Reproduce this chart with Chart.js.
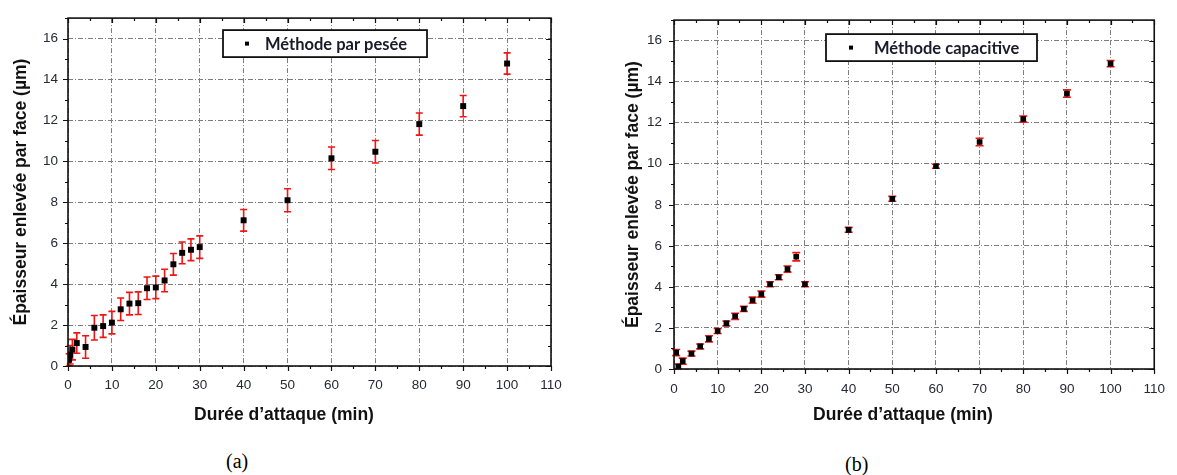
<!DOCTYPE html>
<html>
<head>
<meta charset="utf-8">
<script src="https://cdn.jsdelivr.net/npm/chart.js@4.4.0/dist/chart.umd.min.js"></script>
<style>
    body { margin: 0; background: #fff; width: 1177px; height: 475px; overflow: hidden; position: relative; }
    canvas { position: absolute; top: 0; }
    #chart-a { left: 0; }
    #chart-b { left: 590px; }
    .caption { position: absolute; font-family: 'Liberation Serif', 'Times New Roman', serif; font-size: 20px; color: #000; }
</style>
</head>
<body>
<canvas id="chart-a" width="580" height="432"></canvas>
<canvas id="chart-b" width="587" height="432"></canvas>
<div class="caption" style="left:226px; top:450px;">(a)</div>
<div class="caption" style="left:845px; top:453px;">(b)</div>

<script>
// (a) méthode par pesée
const timeA = [0.25, 0.5, 1, 2, 4, 6, 8, 10, 12, 14, 16, 18, 20, 22, 24, 26, 28, 30, 40, 50, 60, 70, 80, 90, 100];
const thickA = [0.3, 0.55, 0.8, 1.12, 0.93, 1.87, 1.95, 2.12, 2.77, 3.05, 3.07, 3.8, 3.84, 4.18, 4.97, 5.53, 5.68, 5.81, 7.12, 8.1, 10.15, 10.47, 11.82, 12.7, 14.78];
const errA = [0.3, 0.45, 0.5, 0.5, 0.55, 0.6, 0.55, 0.55, 0.55, 0.55, 0.55, 0.55, 0.55, 0.55, 0.53, 0.53, 0.53, 0.55, 0.53, 0.56, 0.55, 0.55, 0.54, 0.52, 0.52];

// (b) méthode capacitive
const timeB = [0.5, 1, 2, 4, 6, 8, 10, 12, 14, 16, 18, 20, 22, 24, 26, 28, 30, 40, 50, 60, 70, 80, 90, 100];
const thickB = [0.8, 0.12, 0.38, 0.75, 1.1, 1.47, 1.85, 2.22, 2.57, 2.93, 3.35, 3.65, 4.13, 4.47, 4.87, 5.47, 4.13, 6.78, 8.29, 9.88, 11.06, 12.18, 13.42, 14.88];
const errB = [0.15, 0.12, 0.15, 0.12, 0.12, 0.15, 0.12, 0.12, 0.15, 0.12, 0.15, 0.15, 0.12, 0.12, 0.15, 0.2, 0.12, 0.12, 0.12, 0.1, 0.18, 0.15, 0.18, 0.15];

const xTicks = [0, 10, 20, 30, 40, 50, 60, 70, 80, 90, 100, 110];
const yTicks = [0, 2, 4, 6, 8, 10, 12, 14, 16];

const SANS = "'Liberation Sans', Arial, sans-serif";
const GRID_DASH = [5, 2, 1, 2];

// red error bars, drawn under the markers
const errorBars = {
    id: 'errorBars',
    beforeDatasetsDraw(chart, args, opts) {
        const { ctx, scales: { x, y } } = chart;
        const pts = chart.data.datasets[0].data;
        ctx.save();
        ctx.strokeStyle = '#f01414';
        ctx.lineWidth = opts.width;
        pts.forEach((p, i) => {
            const e = opts.errors[i];
            const px = x.getPixelForValue(p.x);
            const top = y.getPixelForValue(p.y + e);
            const bot = y.getPixelForValue(p.y - e);
            ctx.beginPath();
            ctx.moveTo(px, top); ctx.lineTo(px, bot);
            ctx.moveTo(px - opts.cap, top); ctx.lineTo(px + opts.cap, top);
            ctx.moveTo(px - opts.cap, bot); ctx.lineTo(px + opts.cap, bot);
            ctx.stroke();
        });
        ctx.restore();
    }
};

// frame, minor/major ticks, x title and inset legend
const frame = {
    id: 'frame',
    afterDraw(chart, args, opts) {
        const { ctx, chartArea: a, scales: { x, y } } = chart;
        ctx.save();
        ctx.strokeStyle = '#111';
        ctx.lineWidth = 1.2;
        ctx.beginPath();
        for (let v = 0; v <= 110; v += 5) {
            const px = Math.round(x.getPixelForValue(v)) + 0.5;
            const len = v % 10 === 0 ? 5 : 3;
            ctx.moveTo(px, a.bottom); ctx.lineTo(px, a.bottom + len);
            ctx.moveTo(px, a.top); ctx.lineTo(px, a.top + len);
        }
        for (let v = 0; v <= 17; v += 1) {
            const py = Math.round(y.getPixelForValue(v)) + 0.5;
            const len = v % 2 === 0 ? 5 : 3;
            ctx.moveTo(a.left, py); ctx.lineTo(a.left - len, py);
            ctx.moveTo(a.right, py); ctx.lineTo(a.right - len, py);
        }
        ctx.stroke();

        ctx.lineWidth = 1.6;
        ctx.strokeRect(a.left, a.top, a.right - a.left, a.bottom - a.top);

        // x axis title
        ctx.fillStyle = '#111';
        ctx.font = 'bold 17.5px ' + SANS;
        ctx.textAlign = 'center';
        ctx.textBaseline = 'middle';
        ctx.fillText(opts.xTitle, a.left + opts.xTitleDx, opts.xTitleY);

        // legend box
        const bx = a.left + opts.legend.dx, by = a.top + opts.legend.dy;
        ctx.fillStyle = '#fff';
        ctx.fillRect(bx, by, opts.legend.w, opts.legend.h);
        ctx.lineWidth = 1.8;
        ctx.strokeRect(bx, by, opts.legend.w, opts.legend.h);
        ctx.fillStyle = '#000';
        ctx.fillRect(bx + opts.legend.mark - 2, by + opts.legend.h / 2 - 2, 4, 4);
        ctx.font = "bold 16.5px Lato, 'Open Sans', sans-serif";
        ctx.textAlign = 'left';
        ctx.fillStyle = '#1a1a2a';
        ctx.fillText(opts.legend.text, bx + opts.legend.textX, by + opts.legend.h / 2 + 1);
        ctx.restore();
    }
};

function makeChart(id, times, values, errors, cfg) {
    const points = times.map((t, i) => ({ x: t, y: values[i] }));
    return new Chart(document.getElementById(id), {
        type: 'scatter',
        data: {
            datasets: [{
                label: cfg.legend.text,
                data: points,
                pointStyle: 'rect',
                pointRadius: cfg.radius,
                pointBackgroundColor: '#000',
                pointBorderWidth: 0,
                showLine: false
            }]
        },
        options: {
            responsive: false,
            animation: false,
            layout: { padding: cfg.padding },
            plugins: {
                legend: { display: false },
                tooltip: { enabled: false },
                errorBars: { errors: errors, cap: cfg.cap, width: 1.6 },
                frame: cfg
            },
            scales: {
                x: {
                    type: 'linear',
                    min: 0,
                    max: 110,
                    afterBuildTicks: (s) => { s.ticks = xTicks.map(v => ({ value: v })); },
                    ticks: { autoSkip: false, maxRotation: 0, padding: cfg.xPad, color: '#252a35', font: { family: SANS, size: 13.5 } },
                    grid: { color: '#7d7d7d', lineWidth: 1, drawTicks: false, borderDash: GRID_DASH },
                    border: { display: false, dash: GRID_DASH },
                    afterFit: (s) => { s.height = cfg.xHeight; }
                },
                y: {
                    type: 'linear',
                    min: 0,
                    max: 17,
                    afterBuildTicks: (s) => { s.ticks = yTicks.map(v => ({ value: v })); },
                    ticks: { padding: cfg.yPad, color: '#252a35', font: { family: SANS, size: 13.5 } },
                    grid: { color: '#7d7d7d', lineWidth: 1, drawTicks: false, borderDash: GRID_DASH },
                    border: { display: false, dash: GRID_DASH },
                    title: {
                        display: true,
                        text: 'Épaisseur enlevée par face (µm)',
                        color: '#111',
                        font: { family: SANS, size: 17.5, weight: 'bold' },
                        padding: { top: cfg.yTitlePad, bottom: 0 }
                    },
                    afterFit: (s) => { s.width = cfg.yWidth; }
                }
            }
        },
        plugins: [errorBars, frame]
    });
}

makeChart('chart-a', timeA, thickA, errA, {
    padding: { left: 0, top: 11, right: 29, bottom: 0 },
    yWidth: 68, xHeight: 66, xPad: 11, yPad: 10, yTitlePad: 11,
    radius: 4.2, cap: 3.5,
    xTitle: 'Durée d’attaque (min)', xTitleDx: 216, xTitleY: 415,
    legend: { dx: 155, dy: 12, w: 204, h: 27, mark: 24, textX: 42, text: 'Méthode par pesée' }
});

makeChart('chart-b', timeB, thickB, errB, {
    padding: { left: 0, top: 13, right: 19, bottom: 0 },
    yWidth: 84, xHeight: 63, xPad: 12, yPad: 12, yTitlePad: 33,
    radius: 4, cap: 4,
    xTitle: 'Durée d’attaque (min)', xTitleDx: 229, xTitleY: 415,
    legend: { dx: 152, dy: 14, w: 211, h: 27, mark: 25, textX: 48, text: 'Méthode capacitive' }
});
</script>
</body>
</html>
